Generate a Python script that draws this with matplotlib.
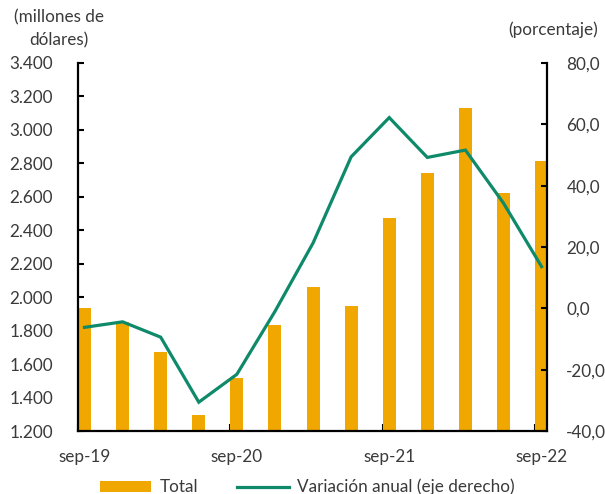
import matplotlib.pyplot as plt
from matplotlib.ticker import FuncFormatter

plt.rcParams['font.family'] = ['Lato', 'DejaVu Sans']

quarters = ["sep-19", "dic-19", "mar-20", "jun-20", "sep-20", "dic-20", "mar-21",
            "jun-21", "sep-21", "dic-21", "mar-22", "jun-22", "sep-22"]
total = [1933, 1850, 1670, 1296, 1518, 1833, 2062, 1949, 2476, 2745, 3128, 2623, 2813]
variacion = [-6.2, -4.4, -9.4, -30.6, -21.5, -1.0, 21.3, 49.4, 62.2, 49.2, 51.6, 34.3, 13.6]
shown_labels = ["sep-19", "sep-20", "sep-21", "sep-22"]

bar_color = "#F0A800"
line_color = "#0E8A6B"
text_color = "#3a3a3a"
fs = 12.3

fig = plt.figure(figsize=(6.05, 4.94), dpi=100)
ax = fig.add_axes([0.129, 0.1275, 0.775, 0.745])
ax2 = ax.twinx()

x = list(range(len(quarters)))
bars = ax.bar(x, total, width=0.34, color=bar_color, zorder=2, label="Total")
line, = ax2.plot(x, variacion, color=line_color, lw=2.3, solid_joinstyle="miter",
                 label="Variación anual (eje derecho)")

ax.set_xlim(-0.13, 12.14)
ax.set_ylim(1200, 3400)
ax.set_yticks(range(1200, 3401, 200))
ax.yaxis.set_major_formatter(FuncFormatter(lambda v, p: f"{int(v):,}".replace(",", ".")))
ax2.set_ylim(-40, 80)
ax2.set_yticks(range(-40, 81, 20))
ax2.yaxis.set_major_formatter(FuncFormatter(lambda v, p: f"{v:.1f}".replace(".", ",")))

# tick marks sit at the left edge of the yearly bar, labels centred on the bar
idx = [quarters.index(q) for q in shown_labels]
ax.set_xticks([i - 0.17 for i in idx])
ax.set_xticklabels([])
ax.set_xticks(idx, minor=True)
ax.set_xticklabels(shown_labels, minor=True)
ax.tick_params(axis="x", which="major", direction="in", length=5, width=1.5)
ax.tick_params(axis="x", which="minor", length=0, pad=13, labelsize=fs, labelcolor=text_color)

ax.tick_params(axis="y", direction="in", length=4, width=1.5, pad=18,
               labelsize=fs, labelcolor=text_color)
ax2.tick_params(axis="y", direction="in", length=4, width=1.5, pad=14,
                labelsize=fs, labelcolor=text_color)

for a in (ax, ax2):
    a.spines["top"].set_visible(False)
    for side in ("left", "right", "bottom"):
        a.spines[side].set_linewidth(1.6)
ax.spines["right"].set_visible(False)
ax2.spines["left"].set_visible(False)
ax2.spines["bottom"].set_visible(False)

fig.text(0.097, 0.965, "(millones de", ha="center", va="center", fontsize=fs, color=text_color)
fig.text(0.097, 0.918, "dólares)", ha="center", va="center", fontsize=fs, color=text_color)
fig.text(0.915, 0.94, "(porcentaje)", ha="center", va="center", fontsize=fs, color=text_color)

fig.legend([bars, line], ["Total", "Variación anual (eje derecho)"], loc="center",
           bbox_to_anchor=(0.508, 0.014), ncol=2, frameon=False, fontsize=fs,
           handlelength=3.0, handleheight=0.6, columnspacing=2.3, handletextpad=0.5,
           labelcolor=text_color)

fig.savefig("out.png", dpi=100)
